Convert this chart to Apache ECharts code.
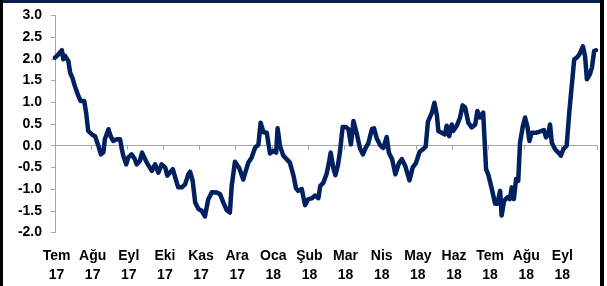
<!DOCTYPE html>
<html>
<head>
<meta charset="utf-8">
<script src="https://cdn.jsdelivr.net/npm/echarts@6/dist/echarts.min.js"></script>
<style>
html,body{margin:0;padding:0;background:#fff;}
#c{width:607px;height:286px;}
</style>
</head>
<body>
<div id="c"></div>
<script>
// Month tick labels (Jul 2017 .. Sep 2018)
const monthLabels = ['Tem\n17','Ağu\n17','Eyl\n17','Eki\n17','Kas\n17','Ara\n17','Oca\n18','Şub\n18','Mar\n18','Nis\n18','May\n18','Haz\n18','Tem\n18','Ağu\n18','Eyl\n18'];
const yTicks = [-2.0,-1.5,-1.0,-0.5,0.0,0.5,1.0,1.5,2.0,2.5,3.0];

// time position in months since start of Jul 2017
const times = [0,0.09,0.19,0.23,0.28,0.37,0.42,0.48,0.55,0.65,0.71,0.81,0.86,0.92,1.02,1.11,1.2,1.27,1.34,1.38,
1.48,1.54,1.61,1.71,1.8,1.85,1.89,1.97,2.03,2.12,2.21,2.26,2.35,2.41,2.46,2.54,2.68,2.77,2.86,2.95,
3.05,3.11,3.18,3.26,3.37,3.41,3.51,3.6,3.69,3.74,3.81,3.88,3.97,4.06,4.15,4.24,4.34,4.48,4.57,4.66,
4.75,4.84,4.89,4.98,5.1,5.21,5.26,5.35,5.44,5.54,5.63,5.69,5.77,5.86,5.95,6.04,6.12,6.16,6.23,6.32,
6.41,6.5,6.6,6.67,6.73,6.83,6.92,7.01,7.11,7.2,7.29,7.34,7.43,7.52,7.58,7.63,7.71,7.76,7.83,7.89,
7.96,8.05,8.12,8.19,8.26,8.35,8.44,8.52,8.61,8.67,8.77,8.83,8.9,9.0,9.09,9.18,9.24,9.33,9.42,9.52,
9.6,9.69,9.81,9.9,9.99,10.09,10.19,10.26,10.32,10.43,10.5,10.57,10.61,10.7,10.79,10.84,10.91,10.98,11.02,11.12,
11.21,11.28,11.35,11.44,11.53,11.63,11.69,11.76,11.85,11.93,11.99,12.09,12.18,12.24,12.32,12.36,12.43,12.52,12.59,12.64,
12.7,12.76,12.82,12.87,12.95,13.01,13.07,13.13,13.19,13.33,13.47,13.53,13.59,13.65,13.7,13.75,13.84,13.93,14.0,14.07,
14.16,14.24,14.3,14.37,14.44,14.51,14.61,14.67,14.72,14.8,14.86,14.92,14.97];

const values = [2.03,2.10,2.20,1.99,2.07,1.95,1.68,1.57,1.37,1.14,1.03,1.03,0.77,0.34,0.26,0.22,0.00,-0.20,-0.15,0.15,
0.38,0.22,0.11,0.15,0.15,-0.08,-0.23,-0.43,-0.27,-0.20,-0.31,-0.43,-0.35,-0.16,-0.12,-0.39,-0.58,-0.43,-0.62,-0.43,
-0.50,-0.69,-0.62,-0.54,-0.85,-0.96,-0.96,-0.89,-0.66,-0.60,-0.81,-1.31,-1.46,-1.50,-1.63,-1.24,-1.07,-1.08,-1.12,-1.31,
-1.48,-1.54,-0.93,-0.37,-0.52,-0.78,-0.64,-0.39,-0.28,-0.04,0.02,0.53,0.31,0.30,-0.18,-0.12,-0.16,0.40,-0.02,-0.23,
-0.31,-0.39,-0.69,-0.98,-1.04,-1.00,-1.37,-1.23,-1.21,-1.15,-1.21,-0.93,-0.85,-0.64,-0.40,-0.16,-0.54,-0.68,-0.45,-0.12,
0.43,0.43,0.38,0.03,0.57,0.28,-0.06,-0.20,-0.03,0.05,0.38,0.40,0.18,0.01,-0.05,0.20,-0.16,-0.31,-0.66,-0.40,
-0.31,-0.46,-0.80,-0.50,-0.40,-0.14,-0.08,-0.02,0.55,0.76,0.99,0.69,0.34,0.30,0.26,0.46,0.22,0.49,0.34,0.46,
0.65,0.93,0.88,0.53,0.42,0.49,0.80,0.65,0.76,-0.54,-0.66,-1.00,-1.34,-1.34,-1.04,-1.61,-1.27,-1.19,-1.23,-0.96,
-1.23,-0.77,-0.81,0.07,0.46,0.65,0.46,0.11,0.30,0.30,0.34,0.36,0.19,0.26,0.49,0.07,-0.08,-0.16,-0.23,-0.08,
0.00,0.84,1.37,1.99,2.03,2.10,2.29,2.06,1.53,1.64,1.80,2.18,2.20];

const seriesData = times.map((t, i) => [t, values[i]]);

const chart = echarts.init(document.getElementById('c'), null, {renderer: 'canvas'});
const labelFont = {fontFamily: '"Liberation Sans", Arial, sans-serif', fontWeight: 'bold', fontSize: 14, color: '#000'};
const axisGray = '#A6A6A6';

chart.setOption({
  animation: false,
  backgroundColor: '#fff',
  grid: {left: 55, top: 15.5, width: 542, height: 217, containLabel: false},
  xAxis: [
    {
      type: 'value', min: 0, max: monthLabels.length, interval: 1,
      axisLine: {show: true, onZero: true, lineStyle: {color: axisGray, width: 1}},
      axisTick: {show: true, length: 4, inside: false, lineStyle: {color: axisGray}},
      axisLabel: {show: false},
      splitLine: {show: false}
    },
    {
      type: 'value', min: 0, max: monthLabels.length, interval: 1, position: 'bottom',
      axisLine: {show: false, onZero: false},
      axisTick: {show: false},
      splitLine: {show: false},
      axisLabel: Object.assign({
        margin: 14, lineHeight: 19, align: 'center', padding: [0, 0, 0, 3],
        formatter: v => monthLabels[v] !== undefined ? monthLabels[v] : ''
      }, labelFont)
    }
  ],
  yAxis: {
    type: 'value', min: yTicks[0], max: yTicks[yTicks.length - 1], interval: 0.5,
    axisLine: {show: true, lineStyle: {color: axisGray, width: 1}},
    axisTick: {show: true, length: 4, lineStyle: {color: axisGray}},
    splitLine: {show: false},
    axisLabel: Object.assign({margin: 13, formatter: v => v.toFixed(1)}, labelFont)
  },
  series: [{
    type: 'line',
    xAxisIndex: 0,
    data: seriesData,
    showSymbol: false,
    symbol: 'none',
    clip: false,
    lineStyle: {color: '#002060', width: 4.5, cap: 'round', join: 'round'}
  }],
  graphic: [
    {type: 'rect', shape: {x: 0, y: 0, width: 601, height: 3}, style: {fill: '#0B1F4F'}, z: 100},
    {type: 'rect', shape: {x: 0, y: 0, width: 3, height: 286}, style: {fill: '#000'}, z: 100},
    {type: 'rect', shape: {x: 600, y: 0, width: 4, height: 286}, style: {fill: '#000'}, z: 100}
  ]
});
</script>
</body>
</html>
